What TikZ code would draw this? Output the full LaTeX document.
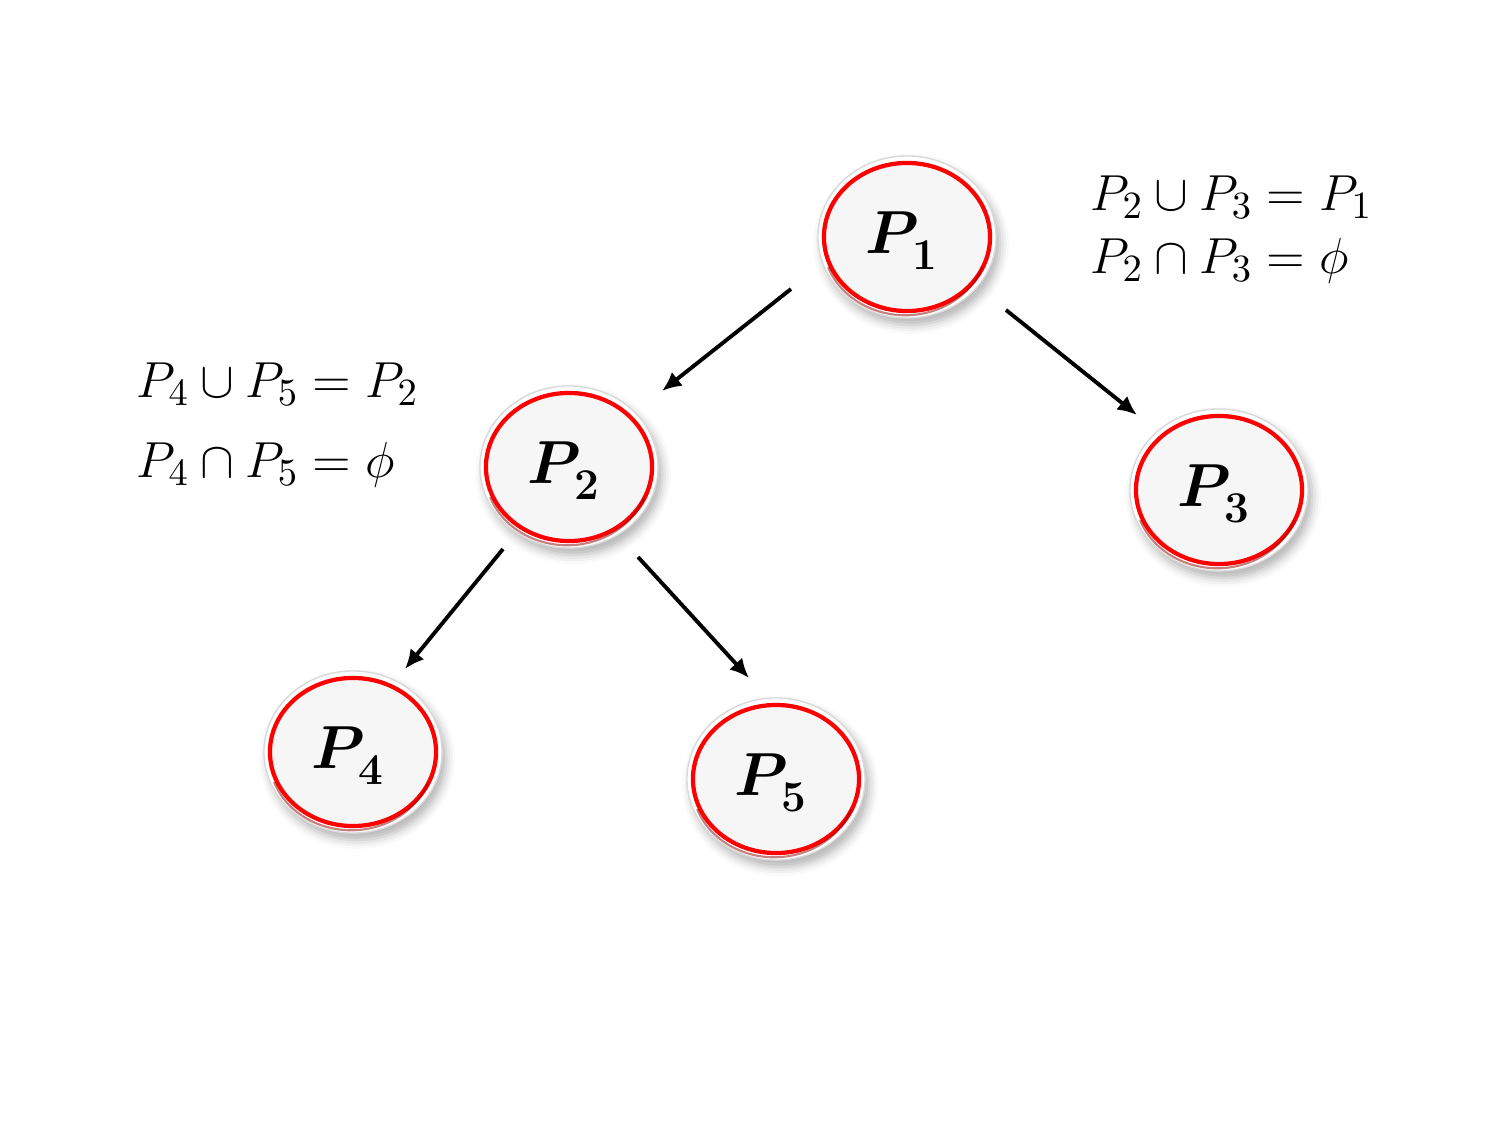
\documentclass[tikz,border=0pt]{standalone}
\usepackage{amsmath,bm}
\usetikzlibrary{shapes.geometric,shadows.blur,arrows.meta}
\newcommand{\plabel}[1]{$\bm{P}_{\kern1pt\raisebox{-2pt}{\fontsize{12.5}{12.5}\selectfont\bfseries #1}}$}
\tikzset{
  outerring/.style={ellipse, minimum width=1.78cm, minimum height=1.62cm, fill=white, draw=gray!30, line width=0.4pt,
    blur shadow={shadow xshift=1.2pt, shadow yshift=-2pt, shadow opacity=30, shadow blur radius=2.5pt}},
  pnode/.style={ellipse, minimum width=1.66cm, minimum height=1.48cm, fill=gray!7, draw=red, line width=1.2pt, inner sep=0pt},
  plab/.style={inner sep=0pt, font=\fontsize{16}{18}\selectfont},
  arr/.style={-{Latex[length=5.5pt,width=5pt]}, line width=1.1pt, black},
  eqn/.style={anchor=base west, inner sep=0pt, font=\fontsize{15.5}{19}\selectfont}
}
\begin{document}
\begin{tikzpicture}[x=0.01cm,y=-0.01cm]
\useasboundingbox (0,0) rectangle (1500,1125);
\foreach \n/\x/\y in {1/907/237, 2/569/467, 3/1219/490, 4/353/752, 5/776/779}{
  \node[outerring] (R\n) at (\x,\y) {};
  \node[pnode] (P\n) at (\x,\y) {};
  \draw[red!55!black, line width=0.6pt, opacity=0.5] ([shift={(0,1.5)}]P\n.200) arc[start angle=200, end angle=340, x radius=0.82cm, y radius=0.73cm];
  \node[plab] (L\n) at (\x-5,\y+4) {\plabel{\n}};
}
\coordinate (a1s) at (791,289); \coordinate (a1e) at (662,391);
\coordinate (a2s) at (1006,310); \coordinate (a2e) at (1137,415);
\coordinate (a3s) at (503,549); \coordinate (a3e) at (405,669);
\coordinate (a4s) at (638,557); \coordinate (a4e) at (749,678);
\draw[arr] (a1s) -- (a1e);
\draw[arr] (a2s) -- (a2e);
\draw[arr] (a3s) -- (a3e);
\draw[arr] (a4s) -- (a4e);
\node[eqn] (e1) at (1090,211) {$P_2 \cup P_3 = P_1$};
\node[eqn] (e2) at (1090,274) {$P_2 \cap P_3 = \phi$};
\node[eqn] (e3) at (136,398) {$P_4 \cup P_5 = P_2$};
\node[eqn] (e4) at (136,478) {$P_4 \cap P_5 = \phi$};
\end{tikzpicture}
\end{document}
